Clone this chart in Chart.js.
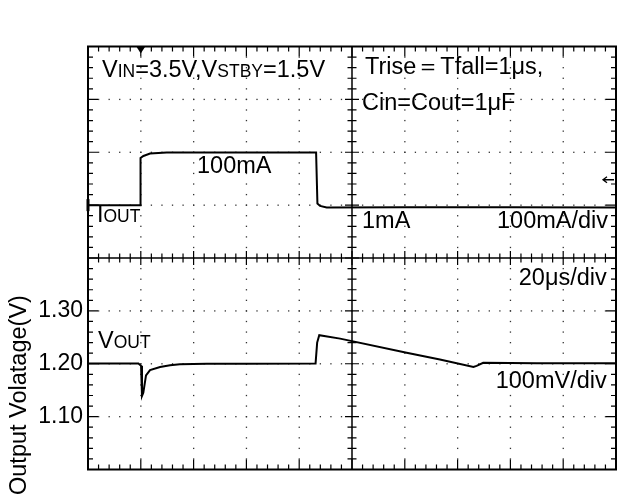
<!DOCTYPE html>
<html>
<head>
<meta charset="utf-8">
<script src="https://cdn.jsdelivr.net/npm/chart.js@4.4.0/dist/chart.umd.min.js"></script>
<style>
  html, body { margin: 0; padding: 0; background: #fff; }
</style>
</head>
<body>
<canvas class="js-chart" width="617" height="498"></canvas>
<script>
(function () {

  // time base: 20us/div, 10 div
  const ioutTime = [0, 19.7, 19.9, 21.0, 23.5, 29.8, 40, 60, 80, 86.4, 86.9, 87.9, 90.4, 120, 160, 200];
  const ioutMa = [0, 0, 89, 93, 97.5, 99.5, 99.3, 99.6, 99.4, 99.4, 3, -1.5, -4.5, -4, -4, -4.5];

  const voutTime = [0, 19.1, 20.1, 20.45, 20.95, 21.97, 23.5, 27.3, 31.1, 34.8, 45, 60, 86.2, 86.8, 87.6, 95.5, 120.7, 133.3, 146, 147.2, 149.7, 170, 200];
  const voutV = [1.2006, 1.2006, 1.196, 1.139, 1.145, 1.178, 1.188, 1.194, 1.197, 1.199, 1.200, 1.200, 1.2006, 1.240, 1.254, 1.2475, 1.2207, 1.208, 1.194, 1.196, 1.2017, 1.201, 1.201];

  const yTickLabels = ['1.10', '1.20', '1.30'];
  const yTitle = 'Output Volatage(V)';

  const FONT = '"Liberation Sans", Arial, sans-serif';

  const scopeGrid = {
    id: 'scopeGrid',
    beforeDatasetsDraw(chart) {
      const { ctx, chartArea: a, scales: { x, y } } = chart;
      const xAt = i => x.getPixelForValue(x.min + (x.max - x.min) * i / 50);
      const yAt = j => y.getPixelForValue(y.min + (y.max - y.min) * j / 40);
      ctx.save();

      // dotted major grid
      ctx.fillStyle = '#333';
      for (let i = 5; i < 50; i += 5) {
        if (i === 25) continue;
        for (let j = 1; j < 40; j++) ctx.fillRect(xAt(i) - 0.6, yAt(j) - 0.6, 1.3, 1.3);
      }
      for (let j = 5; j < 40; j += 5) {
        if (j === 20) continue;
        for (let i = 1; i < 50; i++) ctx.fillRect(xAt(i) - 0.6, yAt(j) - 0.6, 1.3, 1.3);
      }

      // center cross with ticks
      ctx.strokeStyle = '#000';
      ctx.lineWidth = 1.5;
      const cx = xAt(25), cy = yAt(20);
      ctx.beginPath();
      ctx.moveTo(a.left, cy); ctx.lineTo(a.right, cy);
      ctx.moveTo(cx, a.top); ctx.lineTo(cx, a.bottom);
      ctx.stroke();
      ctx.lineWidth = 1.2;
      ctx.beginPath();
      for (let i = 1; i < 50; i++) {
        const l = i % 5 === 0 ? 7 : 4.5;
        ctx.moveTo(xAt(i), cy - l); ctx.lineTo(xAt(i), cy + l);
      }
      for (let j = 1; j < 40; j++) {
        const l = j % 5 === 0 ? 7 : 4.5;
        ctx.moveTo(cx - l, yAt(j)); ctx.lineTo(cx + l, yAt(j));
      }
      // border ticks, inward
      for (let i = 1; i < 50; i++) {
        const l = i % 5 === 0 ? 10 : 5;
        ctx.moveTo(xAt(i), a.bottom); ctx.lineTo(xAt(i), a.bottom - l);
        ctx.moveTo(xAt(i), a.top); ctx.lineTo(xAt(i), a.top + l);
      }
      for (let j = 1; j < 40; j++) {
        const l = j % 5 === 0 ? 10 : 5;
        ctx.moveTo(a.left, yAt(j)); ctx.lineTo(a.left + l, yAt(j));
        ctx.moveTo(a.right, yAt(j)); ctx.lineTo(a.right - l, yAt(j));
      }
      ctx.stroke();

      // frame
      ctx.lineWidth = 2;
      ctx.strokeRect(a.left, a.top, a.right - a.left, a.bottom - a.top);

      // scope markers
      ctx.fillStyle = '#000';
      const tx = x.getPixelForValue(20);
      ctx.beginPath();
      ctx.moveTo(tx - 4.5, a.top); ctx.lineTo(tx + 4.5, a.top); ctx.lineTo(tx, a.top + 7);
      ctx.closePath(); ctx.fill();
      const gy = chart.scales.yI.getPixelForValue(0);
      ctx.fillRect(a.left - 1.5, gy - 6, 3, 12);
      const ay = chart.scales.yI.getPixelForValue(48);
      ctx.lineWidth = 1.3;
      ctx.beginPath();
      ctx.moveTo(a.right - 2, ay); ctx.lineTo(a.right - 13, ay);
      ctx.moveTo(a.right - 9, ay - 3); ctx.lineTo(a.right - 13, ay); ctx.lineTo(a.right - 9, ay + 3);
      ctx.stroke();
      ctx.restore();
    }
  };

  function rich(ctx, parts, px, py, align) {
    let w = 0;
    parts.forEach(p => { ctx.font = p[1] + 'px ' + FONT; w += ctx.measureText(p[0]).width; });
    let cur = align === 'right' ? px - w : px;
    parts.forEach(p => {
      ctx.font = p[1] + 'px ' + FONT;
      ctx.fillText(p[0], cur, py);
      cur += ctx.measureText(p[0]).width;
    });
  }

  const scopeText = {
    id: 'scopeText',
    afterDatasetsDraw(chart) {
      const { ctx, scales: { x, y } } = chart;
      const X = t => x.getPixelForValue(t);
      const Y = v => y.getPixelForValue(v);
      const B = 23.5, S = 17.5;
      ctx.save();
      ctx.fillStyle = '#000';
      ctx.textAlign = 'left';
      ctx.textBaseline = 'alphabetic';
      rich(ctx, [['V', B], ['IN', S], ['=3.5V,', B], ['V', B], ['STBY', S], ['=1.5V', B]], X(5.3), Y(1.743));
      rich(ctx, [['100mA', B]], X(41.3), Y(1.560));
      rich(ctx, [['I', B], ['OUT', S]], X(3.4), Y(1.468));
      rich(ctx, [['Trise', B], ['\uFF1D', B], ['Tfall=1\u03BCs,', B]], X(104.9), Y(1.748));
      rich(ctx, [['Cin=Cout=1\u03BCF', B]], X(103.8), Y(1.680));
      rich(ctx, [['1mA', B]], X(103.8), Y(1.457));
      rich(ctx, [['100mA/div', B]], X(197), Y(1.457), 'right');
      rich(ctx, [['20\u03BCs/div', B]], X(196.5), Y(1.348), 'right');
      rich(ctx, [['V', B], ['OUT', S]], X(3.8), Y(1.229));
      rich(ctx, [['100mV/div', B]], X(196.5), Y(1.155), 'right');

      // axis title
      ctx.translate(20, 495);
      ctx.rotate(-Math.PI / 2);
      ctx.textBaseline = 'middle';
      ctx.font = '23.5px ' + FONT;
      ctx.fillText(yTitle, 0, 0);
      ctx.restore();
    }
  };

  const trace = {
    borderColor: '#000',
    borderWidth: 2,
    pointRadius: 0,
    tension: 0,
    fill: false,
  };

  const config = {
    type: 'line',
    data: {
      datasets: [
        Object.assign({ label: 'IOUT', yAxisID: 'yI', data: ioutTime.map((t, i) => ({ x: t, y: ioutMa[i] })) }, trace),
        Object.assign({ label: 'VOUT', yAxisID: 'y', data: voutTime.map((t, i) => ({ x: t, y: voutV[i] })) }, trace),
      ]
    },
    options: {
      responsive: false,
      animation: false,
      layout: { padding: { top: 46.5, right: 1, bottom: 28.5, left: 0 } },
      plugins: {
        legend: { display: false },
        tooltip: { enabled: false }
      },
      scales: {
        x: { type: 'linear', min: 0, max: 200, display: false },
        y: {
          type: 'linear',
          position: 'left',
          min: 1.0,
          max: 1.8,
          grid: { display: false, drawTicks: false },
          border: { display: false },
          afterFit: s => { s.width = 88; },
          ticks: {
            stepSize: 0.1,
            autoSkip: false,
            padding: 5,
            color: '#000',
            font: { family: FONT, size: 23 },
            callback: v => {
              const s = (+v).toFixed(2);
              return yTickLabels.includes(s) ? s : '';
            }
          }
        },
        yI: { type: 'linear', min: -500, max: 300, display: false }
      }
    },
    plugins: [scopeGrid, scopeText]
  };

  new Chart(document.querySelector('.js-chart'), config);

})();
</script>
</body>
</html>
